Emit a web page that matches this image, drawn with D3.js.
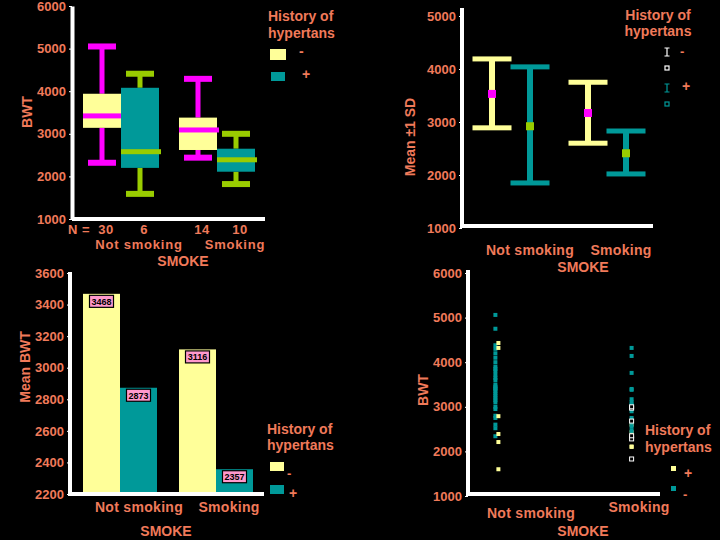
<!DOCTYPE html>
<html>
<head>
<meta charset="utf-8">
<script src="https://cdn.jsdelivr.net/npm/d3@7"></script>
<style>
  html, body { margin: 0; padding: 0; background: #000; }
  svg { display: block; }
  text { font-family: "Liberation Sans", Arial, sans-serif; font-weight: bold; }
</style>
</head>
<body>
<svg id="chart" width="720" height="540"></svg>
<script>
// ---------------- DATA ----------------
const categories = ["Not smoking", "Smoking"];
const hypertension = ["-", "+"];
const groupCounts = [30, 6, 14, 10];           // N per (category, hypertension)

// Box plot (panel 1): order = [NotSmoking -, NotSmoking +, Smoking -, Smoking +]
const boxMin    = [2320, 1590, 2440, 1820];
const boxQ1     = [3140, 2200, 2620, 2110];
const boxMedian = [3420, 2580, 3090, 2390];
const boxQ3     = [3940, 4080, 3380, 2650];
const boxMax    = [5050, 4410, 4290, 3000];

// Mean ± 1 SD (panel 2)
const sdMean = [3530, 2920, 3170, 2410];
const sdLow  = [2890, 1850, 2600, 2020];
const sdHigh = [4190, 4040, 3750, 2830];

// Mean BWT bars (panel 3)
const barMeans = [3468, 2873, 3116, 2357];

// Scatter (panel 4)
const scatterNoSmokeMinus = [5060, 4750, 4380, 4300, 4200, 4100, 4000, 3900, 3850, 3800,
                             3720, 3650, 3600, 3500, 3450, 3420, 3400, 3350, 3300, 3250,
                             3200, 3150, 3100, 3000, 2950, 2800, 2750, 2600, 2520, 2340];
const scatterNoSmokePlus  = [4430, 4320, 2790, 2390, 2210, 1600];
const scatterSmokeMinus   = [4320, 4140, 3760, 3400, 3380, 3170, 3100, 3050, 2970, 2900,
                             2750, 2640, 2550, 2460];
const scatterSmokePlusFilled = [2100, 2110, 2430, 2600];
const scatterSmokePlusHollow = [1830, 2280, 2350, 2680, 2970, 3000];

const ticksBox = [1000, 2000, 3000, 4000, 5000, 6000];
const ticksSD = [1000, 2000, 3000, 4000, 5000];
const ticksBar = [2200, 2400, 2600, 2800, 3000, 3200, 3400, 3600];
const ticksScatter = [1000, 2000, 3000, 4000, 5000, 6000];

// ---------------- STYLE ----------------
const ORANGE = "#f07a5a";
const YELLOW = "#ffff99";
const TEAL = "#009999";
const MAGENTA = "#ff00ff";
const GREEN = "#99cc00";
const PINK = "#ff99cc";
const WHITE = "#ffffff";

const svg = d3.select("#chart");
svg.append("rect").attr("width", 720).attr("height", 540).attr("fill", "#000");

function txt(g, x, y, s, opts = {}) {
  const t = g.append("text")
    .attr("x", x).attr("y", y)
    .attr("fill", opts.fill || ORANGE)
    .attr("font-size", opts.size || 13)
    .attr("text-anchor", opts.anchor || "start")
    .attr("dominant-baseline", "central")
    .text(s);
  if (opts.ls) t.attr("letter-spacing", opts.ls);
  if (opts.rotate) t.attr("transform", `rotate(-90,${x},${y})`);
  return t;
}

function yAxis(g, y, ticks, x, fmt) {
  const ax = d3.axisLeft(y).tickValues(ticks).tickSize(3).tickPadding(3).tickSizeOuter(0).tickFormat(fmt || d3.format("d"));
  const a = g.append("g").attr("transform", `translate(${x},0)`).call(ax);
  a.select(".domain").attr("stroke", WHITE).attr("stroke-width", 4);
  a.selectAll(".tick line").attr("stroke", WHITE).attr("stroke-width", 1);
  a.selectAll(".tick text").attr("fill", ORANGE).attr("font-size", 13)
    .attr("font-family", "Liberation Sans, Arial, sans-serif").attr("font-weight", "bold");
  return a;
}

function hLine(g, x1, x2, yv) {
  g.append("line").attr("x1", x1).attr("x2", x2).attr("y1", yv).attr("y2", yv)
    .attr("stroke", WHITE).attr("stroke-width", 4);
}

const fillFor = i => (i % 2 === 0 ? YELLOW : TEAL);
const accentFor = i => (i % 2 === 0 ? MAGENTA : GREEN);
const idx = (c, h) => c * 2 + h;

// ================= PANEL 1: Box plot =================
{
  const g = svg.append("g");
  const y = d3.scaleLinear().domain([1000, 6000]).range([219, 6]);
  const x = d3.scalePoint().domain(categories).range([73, 265]).padding(0.5);
  const sub = d3.scaleBand().domain(hypertension).range([-38, 38]);
  yAxis(g, y, ticksBox, 72);
  hLine(g, 72, 265, 219);

  categories.forEach((c, ci) => {
    hypertension.forEach((h, hi) => {
      const i = idx(ci, hi);
      const x0 = x(c) + sub(h), bw = sub.bandwidth(), cx = x0 + bw / 2;
      const acc = accentFor(i);
      // whiskers
      g.append("rect").attr("x", cx - 2.5).attr("width", 5)
        .attr("y", y(boxMax[i])).attr("height", y(boxQ3[i]) - y(boxMax[i])).attr("fill", acc);
      g.append("rect").attr("x", cx - 2.5).attr("width", 5)
        .attr("y", y(boxQ1[i])).attr("height", y(boxMin[i]) - y(boxQ1[i])).attr("fill", acc);
      [boxMax[i], boxMin[i]].forEach(v => {
        g.append("rect").attr("x", cx - 14).attr("width", 28)
          .attr("y", y(v) - 3).attr("height", 6).attr("fill", acc);
      });
      // box
      g.append("rect").attr("x", x0).attr("width", bw)
        .attr("y", y(boxQ3[i])).attr("height", y(boxQ1[i]) - y(boxQ3[i])).attr("fill", fillFor(i));
      // median
      g.append("rect").attr("x", x0).attr("width", bw + 2)
        .attr("y", y(boxMedian[i]) - 2.5).attr("height", 5).attr("fill", acc);
      // N label
      txt(g, cx + 4, 229, String(groupCounts[i]), { anchor: "middle", size: 13, ls: 0.5 });
    });
    txt(g, x(c) + 18, 244, c, { anchor: "middle", size: 13, ls: 0.8 });
  });
  txt(g, 68, 229, "N =", { size: 13, ls: 0.5 });
  txt(g, 183, 261, "SMOKE", { anchor: "middle", size: 14 });
  txt(g, 27, 112, "BWT", { anchor: "middle", size: 14, rotate: true });

  // legend
  txt(g, 268, 16, "History of", { size: 14 });
  txt(g, 268, 33, "hypertans", { size: 14 });
  g.append("rect").attr("x", 270).attr("y", 49).attr("width", 16).attr("height", 11).attr("fill", YELLOW);
  g.append("rect").attr("x", 271).attr("y", 72).attr("width", 14).attr("height", 9).attr("fill", TEAL);
  txt(g, 299, 51, hypertension[0], { size: 14 });
  txt(g, 302, 74, hypertension[1], { size: 14 });
}

// ================= PANEL 2: Mean ± 1 SD =================
{
  const g = svg.append("g");
  const y = d3.scaleLinear().domain([1000, 5000]).range([228, 16]);
  const x = d3.scalePoint().domain(categories).range([463, 655]).padding(0.5);
  const sub = d3.scaleBand().domain(hypertension).range([-38, 38]);
  const ax = yAxis(g, y, ticksSD, 462);
  ax.select(".domain").attr("d", "M0,8V228");
  hLine(g, 462, 653, 226);

  categories.forEach((c, ci) => {
    hypertension.forEach((h, hi) => {
      const i = idx(ci, hi);
      const cx = x(c) + sub(h) + sub.bandwidth() / 2;
      const col = fillFor(i);
      g.append("rect").attr("x", cx - 3).attr("width", 6)
        .attr("y", y(sdHigh[i])).attr("height", y(sdLow[i]) - y(sdHigh[i])).attr("fill", col);
      [sdHigh[i], sdLow[i]].forEach(v => {
        g.append("rect").attr("x", cx - 19.5).attr("width", 39)
          .attr("y", y(v) - 2.5).attr("height", 5).attr("fill", col);
      });
      g.append("rect").attr("x", cx - 4).attr("width", 8)
        .attr("y", y(sdMean[i]) - 4).attr("height", 8).attr("fill", accentFor(i));
    });
  });
  txt(g, 530, 250, categories[0], { anchor: "middle", size: 14, ls: 0.3 });
  txt(g, 621, 250, categories[1], { anchor: "middle", size: 14, ls: 0.3 });
  txt(g, 583, 267, "SMOKE", { anchor: "middle", size: 14 });
  txt(g, 410, 137, "Mean ±1 SD", { anchor: "middle", size: 14, rotate: true });

  // legend
  txt(g, 658, 15, "History of", { anchor: "middle", size: 14 });
  txt(g, 658, 31, "hypertans", { anchor: "middle", size: 14 });
  function ibeam(cx, cy, col) {
    g.append("path").attr("d", `M${cx - 2.5},${cy - 4}H${cx + 2.5}M${cx},${cy - 4}V${cy + 4}M${cx - 2.5},${cy + 4}H${cx + 2.5}`)
      .attr("stroke", col).attr("stroke-width", 1.2).attr("fill", "none");
  }
  ibeam(667, 52, WHITE);
  g.append("rect").attr("x", 665).attr("y", 66).attr("width", 4).attr("height", 4)
    .attr("fill", "none").attr("stroke", WHITE).attr("stroke-width", 1.2);
  ibeam(667, 88, TEAL);
  g.append("rect").attr("x", 665).attr("y", 102).attr("width", 4).attr("height", 4)
    .attr("fill", "none").attr("stroke", TEAL).attr("stroke-width", 1.2);
  txt(g, 680, 51, hypertension[0], { size: 13 });
  txt(g, 682, 86, hypertension[1], { size: 14 });
}

// ================= PANEL 3: Bar chart of means =================
{
  const g = svg.append("g");
  const y = d3.scaleLinear().domain([2200, 3600]).range([494, 273]);
  const x = d3.scalePoint().domain(categories).range([72, 264]).padding(0.5);
  const sub = d3.scaleBand().domain(hypertension).range([-37, 37]);
  const ax = yAxis(g, y, ticksBar, 70);
  ax.select(".domain").attr("d", "M0,272V496");

  categories.forEach((c, ci) => {
    hypertension.forEach((h, hi) => {
      const i = idx(ci, hi);
      const x0 = x(c) + sub(h), bw = sub.bandwidth(), cx = x0 + bw / 2;
      g.append("rect").attr("x", x0).attr("width", bw)
        .attr("y", y(barMeans[i])).attr("height", y(2200) - y(barMeans[i])).attr("fill", fillFor(i));
      g.append("rect").attr("x", cx - 12).attr("width", 24)
        .attr("y", y(barMeans[i]) + 1.5).attr("height", 12)
        .attr("fill", PINK).attr("stroke", "#000").attr("stroke-width", 1.2);
      g.append("text").attr("x", cx).attr("y", y(barMeans[i]) + 8)
        .attr("text-anchor", "middle").attr("dominant-baseline", "central")
        .attr("font-size", 9).attr("font-weight", "normal").attr("fill", "#000")
        .text(String(barMeans[i]));
    });
  });
  hLine(g, 70, 264, 494);
  txt(g, 139, 507, categories[0], { anchor: "middle", size: 14, ls: 0.3 });
  txt(g, 229, 507, categories[1], { anchor: "middle", size: 14, ls: 0.3 });
  txt(g, 166, 531, "SMOKE", { anchor: "middle", size: 14 });
  txt(g, 25, 367, "Mean BWT", { anchor: "middle", size: 14, rotate: true });

  // legend
  txt(g, 267, 429, "History of", { size: 14 });
  txt(g, 267, 445, "hypertans", { size: 14 });
  g.append("rect").attr("x", 270).attr("y", 462).attr("width", 14).attr("height", 9).attr("fill", YELLOW);
  g.append("rect").attr("x", 270).attr("y", 485).attr("width", 14).attr("height", 9).attr("fill", TEAL);
  txt(g, 287, 473, hypertension[0], { size: 13 });
  txt(g, 289, 493, hypertension[1], { size: 14 });
}

// ================= PANEL 4: Scatter =================
{
  const g = svg.append("g");
  const y = d3.scaleLinear().domain([1000, 6000]).range([496, 273]);
  const x = d3.scalePoint().domain(categories).range([468, 660]).padding(0.21);
  const ax = yAxis(g, y, ticksScatter, 468);
  ax.select(".domain").attr("d", "M0,270V496");
  hLine(g, 468, 660, 494);

  function pts(vals, cat, dx, fill, stroke) {
    g.selectAll(null).data(vals).enter().append("rect")
      .attr("x", x(cat) + dx - 2).attr("y", d => y(d) - 2)
      .attr("width", 4).attr("height", 4)
      .attr("fill", fill).attr("stroke", stroke || "none").attr("stroke-width", stroke ? 1 : 0);
  }
  pts(scatterNoSmokeMinus, categories[0], -1, TEAL);
  pts(scatterNoSmokePlus, categories[0], 2, YELLOW);
  pts(scatterSmokePlusFilled, categories[1], 0, YELLOW);
  pts(scatterSmokeMinus, categories[1], 0, TEAL);
  pts(scatterSmokePlusHollow, categories[1], 0, "#000", WHITE);

  txt(g, 531, 513, categories[0], { anchor: "middle", size: 14, ls: 0.3 });
  txt(g, 639, 507, categories[1], { anchor: "middle", size: 14, ls: 0.3 });
  txt(g, 583, 531, "SMOKE", { anchor: "middle", size: 14 });
  txt(g, 423, 390, "BWT", { anchor: "middle", size: 14, rotate: true });

  // legend
  txt(g, 645, 430, "History of", { size: 14 });
  txt(g, 645, 447, "hypertans", { size: 14 });
  g.append("rect").attr("x", 671).attr("y", 466).attr("width", 5).attr("height", 5).attr("fill", YELLOW);
  g.append("rect").attr("x", 671).attr("y", 486).attr("width", 5).attr("height", 5).attr("fill", TEAL);
  txt(g, 684, 473, hypertension[1], { size: 14 });
  txt(g, 683, 494, hypertension[0], { size: 13 });
}
</script>
</body>
</html>
